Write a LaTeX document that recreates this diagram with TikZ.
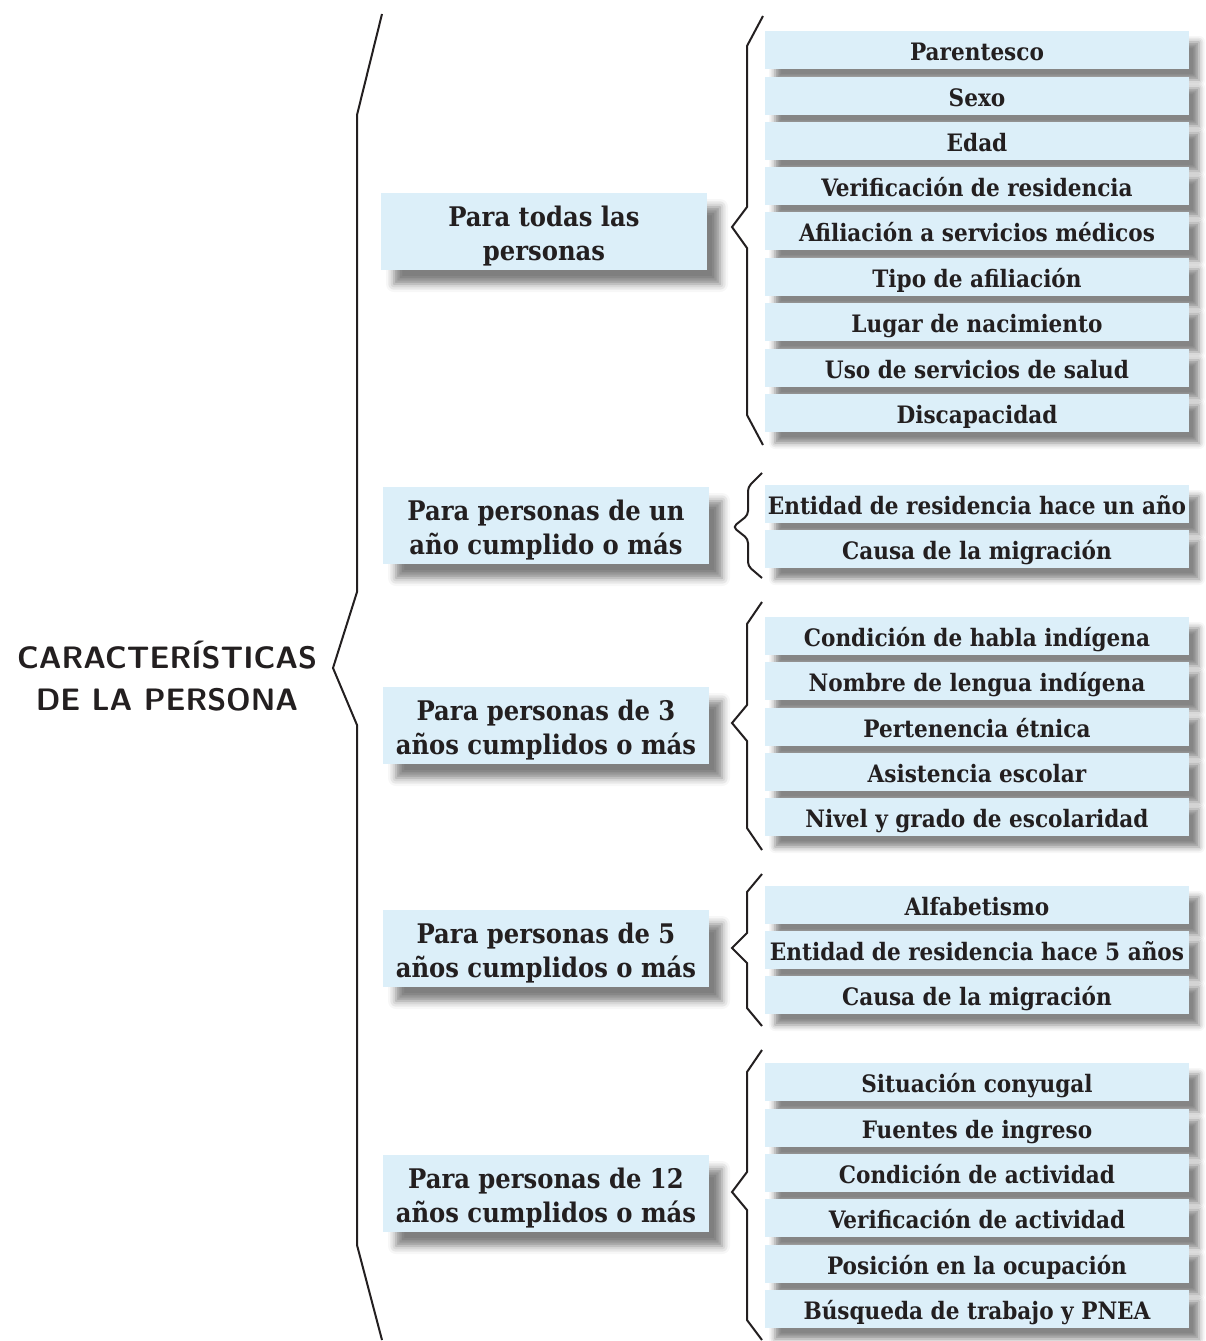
\documentclass[tikz,border=0pt]{standalone}
\usepackage{fontspec}
\newfontfamily\boxfont{DejaVu Serif Condensed}
\usetikzlibrary{shadows.blur}
\definecolor{boxblue}{HTML}{DCEFF9}
\definecolor{inktext}{HTML}{231F20}
\begin{document}
\begin{tikzpicture}[x=1pt,y=-1pt,
  itembox/.style={fill=boxblue, minimum width=424pt, minimum height=38pt,
    inner ysep=0pt, inner xsep=1pt, text height=29pt, text depth=9pt,
    font=\boxfont\bfseries\fontsize{24}{28}\selectfont, text=inktext,
    blur shadow={shadow xshift=10pt, shadow yshift=-11pt, shadow blur radius=6pt, shadow opacity=48}},
  catbox/.style={fill=boxblue, minimum width=326pt, minimum height=77pt,
    inner ysep=0pt, text height=67pt, text depth=10pt, align=center,
    font=\boxfont\bfseries\fontsize{27}{34}\selectfont, text=inktext,
    blur shadow={shadow xshift=13pt, shadow yshift=-14pt, shadow blur radius=8pt, shadow opacity=50}},
  titletext/.style={inner sep=0pt, text height=64pt, text depth=0pt, align=center,
    font=\fontsize{31}{42}\selectfont\sffamily\bfseries, text=inktext},
  bracket/.style={line width=2pt, draw=inktext, line join=miter}]
\useasboundingbox (0,0) rectangle (1205,1341);

% title
\node[titletext] (title) at (167,678) {CARACTERÍSTICAS\\DE LA PERSONA};

% category boxes
\node[catbox] (c1) at (544,231.5) {Para todas las\\personas};
\node[catbox] (c2) at (546,525.5) {Para personas de un\\año cumplido o más};
\node[catbox] (c3) at (546,725.5) {Para personas de 3\\años cumplidos o más};
\node[catbox] (c4) at (546,948.5) {Para personas de 5\\años cumplidos o más};
\node[catbox] (c5) at (546,1193.5) {Para personas de 12\\años cumplidos o más};

% group 1
\node[itembox] (a1) at (977,50) {Parentesco};
\node[itembox] (a2) at (977,96) {Sexo};
\node[itembox] (a3) at (977,141) {Edad};
\node[itembox] (a4) at (977,186) {Verificación de residencia};
\node[itembox] (a5) at (977,231) {Afiliación a servicios médicos};
\node[itembox] (a6) at (977,277) {Tipo de afiliación};
\node[itembox] (a7) at (977,322) {Lugar de nacimiento};
\node[itembox] (a8) at (977,368) {Uso de servicios de salud};
\node[itembox] (a9) at (977,413) {Discapacidad};
% group 2
\node[itembox] (b1) at (977,504) {Entidad de residencia hace un año};
\node[itembox] (b2) at (977,549) {Causa de la migración};
% group 3
\node[itembox] (d1) at (977,636) {Condición de habla indígena};
\node[itembox] (d2) at (977,681) {Nombre de lengua indígena};
\node[itembox] (d3) at (977,727) {Pertenencia étnica};
\node[itembox] (d4) at (977,772) {Asistencia escolar};
\node[itembox] (d5) at (977,817) {Nivel y grado de escolaridad};
% group 4
\node[itembox] (e1) at (977,905) {Alfabetismo};
\node[itembox] (e2) at (977,950) {Entidad de residencia hace 5 años};
\node[itembox] (e3) at (977,995) {Causa de la migración};
% group 5
\node[itembox] (f1) at (977,1082) {Situación conyugal};
\node[itembox] (f2) at (977,1128) {Fuentes de ingreso};
\node[itembox] (f3) at (977,1173) {Condición de actividad};
\node[itembox] (f4) at (977,1218) {Verificación de actividad};
\node[itembox] (f5) at (977,1264) {Posición en la ocupación};
\node[itembox] (f6) at (977,1309) {Búsqueda de trabajo y PNEA};

% braces
\draw[bracket] (382,14) -- (357,115) -- (357,592) -- (333,668) -- (357,725) -- (357,1245) -- (382,1340);
\draw[bracket] (763,16) -- (747,46) -- (747,207) -- (732,227) -- (747,248) -- (747,415) -- (763,445);
\draw[bracket, rounded corners=4pt] (762,473) -- (748,487) -- (748,515) -- (733,527) -- (748,539) -- (748,566) -- (762,578);
\draw[bracket] (762,602) -- (747,624) -- (747,705) -- (732,723) -- (747,741) -- (747,828) -- (762,850);
\draw[bracket] (762,874) -- (747,892) -- (747,933) -- (732,948) -- (747,963) -- (747,1008) -- (762,1026);
\draw[bracket] (762,1050) -- (747,1072) -- (747,1172) -- (732,1192) -- (747,1210) -- (747,1320) -- (762,1340);
\end{tikzpicture}
\end{document}
